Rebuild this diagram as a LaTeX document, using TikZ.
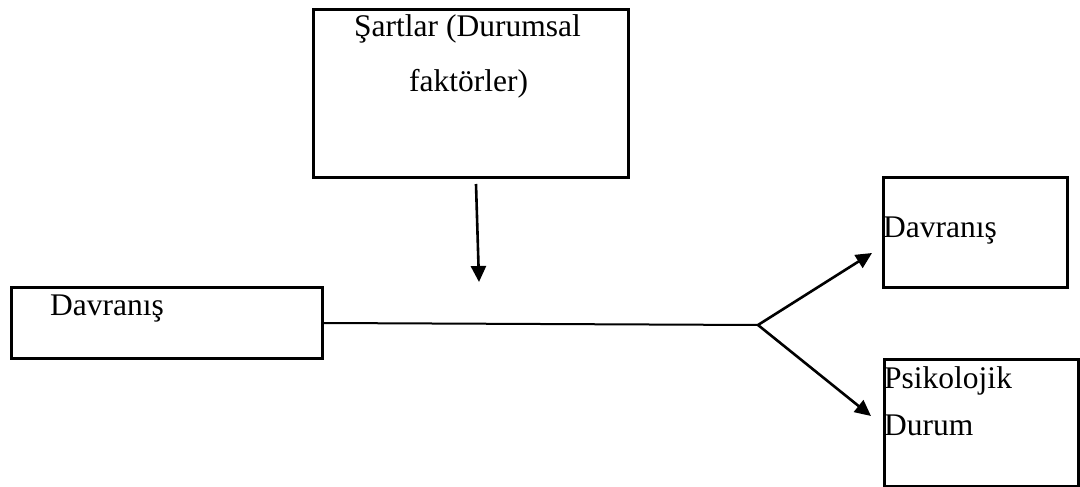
\documentclass[tikz,border=0pt]{standalone}
\usepackage{fontspec}
\setmainfont{Liberation Serif}
\usetikzlibrary{arrows.meta}
\begin{document}
\begin{tikzpicture}[x=1pt,y=1pt,
  boxnode/.style={draw=black,line width=2.6pt,inner sep=0pt,anchor=north west},
  txt/.style={anchor=base west,inner sep=0pt,font=\fontsize{31.5}{37}\selectfont},
  conn/.style={line width=2pt},
  arr/.style={line width=2.6pt,-{Triangle[length=16pt,width=15pt]}}]
\useasboundingbox (0,0) rectangle (1080,-487);
% boxes
\node[boxnode,minimum width=315pt,minimum height=168pt] (top) at (312,-8) {};
\node[boxnode,minimum width=311pt,minimum height=71pt] (left) at (10,-286) {};
\node[boxnode,minimum width=184pt,minimum height=110pt] (rtop) at (882,-176) {};
\node[boxnode,minimum width=194pt,minimum height=127pt] (rbot) at (883,-358) {};
% texts
\node[txt] (t1) at (354,-37) {Şartlar (Durumsal};
\node[txt] (t2) at (409,-92) {faktörler)};
\node[txt] (t3) at (50,-315) {Davranış};
\node[txt] (t4) at (883,-237) {Davranış};
\node[txt] (t5) at (884,-388) {Psikolojik};
\node[txt] (t6) at (884,-435) {Durum};
% connectors
\coordinate (a1) at (476,-184);
\coordinate (a2) at (479,-282);
\coordinate (br) at (758,-325);
\coordinate (up) at (872,-253);
\coordinate (dn) at (871,-416);
\draw[arr] (a1) -- (a2);
\draw[conn] (left.east |- 0,-323) -- (br);
\draw[arr] (br) -- (up);
\draw[arr] (br) -- (dn);
\end{tikzpicture}
\end{document}
